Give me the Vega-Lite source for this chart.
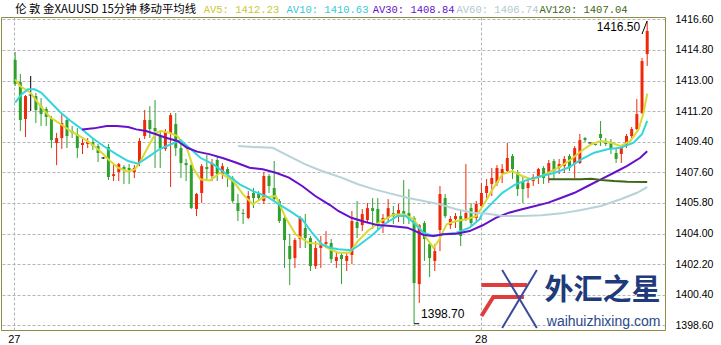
{
"$schema": "https://vega.github.io/schema/vega-lite/v6.json",
"width": 664, "height": 313,
"autosize": {"type": "none"},
"padding": {"left": 1, "top": 17, "right": 56, "bottom": 15},
"background": "white",
"config": {
 "view": {"stroke": "#8c8c46", "strokeWidth": 1},
 "axis": {"labelFont": "Liberation Sans", "labelColor": "#000000", "gridColor": "#b4b4b4", "gridDash": [3, 2], "gridWidth": 1, "domain": false, "ticks": false, "labelOverlap": false}
},
"datasets": {
"candles": [
{"i":0,"o":1414.21,"h":1414.68,"l":1412.68,"c":1412.80},
{"i":1,"o":1412.91,"h":1413.39,"l":1410.03,"c":1410.68},
{"i":2,"o":1410.74,"h":1412.15,"l":1409.68,"c":1412.09},
{"i":3,"o":1412.15,"h":1413.27,"l":1411.21,"c":1412.15},
{"i":4,"o":1412.09,"h":1412.27,"l":1410.50,"c":1411.27},
{"i":5,"o":1411.50,"h":1411.97,"l":1410.33,"c":1411.03},
{"i":6,"o":1411.33,"h":1411.45,"l":1410.33,"c":1410.86},
{"i":7,"o":1410.80,"h":1410.92,"l":1409.03,"c":1409.50},
{"i":8,"o":1409.33,"h":1409.92,"l":1408.03,"c":1409.62},
{"i":9,"o":1409.62,"h":1411.03,"l":1408.98,"c":1410.50},
{"i":10,"o":1410.68,"h":1410.80,"l":1409.03,"c":1409.74},
{"i":11,"o":1410.03,"h":1410.33,"l":1409.62,"c":1409.92},
{"i":12,"o":1409.86,"h":1410.21,"l":1408.45,"c":1409.03},
{"i":13,"o":1409.21,"h":1409.56,"l":1408.68,"c":1409.33},
{"i":14,"o":1409.27,"h":1409.62,"l":1409.03,"c":1409.45},
{"i":15,"o":1409.39,"h":1409.56,"l":1408.92,"c":1409.15},
{"i":16,"o":1409.15,"h":1409.27,"l":1408.21,"c":1408.74},
{"i":17,"o":1408.45,"h":1408.50,"l":1408.39,"c":1408.45},
{"i":18,"o":1409.09,"h":1409.27,"l":1407.15,"c":1407.33},
{"i":19,"o":1407.39,"h":1408.09,"l":1407.09,"c":1407.50},
{"i":20,"o":1407.62,"h":1408.15,"l":1407.09,"c":1408.09},
{"i":21,"o":1407.92,"h":1408.03,"l":1406.92,"c":1407.74},
{"i":22,"o":1407.86,"h":1408.09,"l":1406.92,"c":1407.74},
{"i":23,"o":1407.62,"h":1408.03,"l":1407.27,"c":1407.86},
{"i":24,"o":1408.15,"h":1409.62,"l":1407.97,"c":1409.45},
{"i":25,"o":1409.74,"h":1411.27,"l":1409.56,"c":1410.68},
{"i":26,"o":1410.68,"h":1411.50,"l":1409.62,"c":1410.15},
{"i":27,"o":1410.21,"h":1411.86,"l":1407.86,"c":1410.03},
{"i":28,"o":1409.74,"h":1410.09,"l":1407.86,"c":1409.03},
{"i":29,"o":1408.98,"h":1410.15,"l":1408.86,"c":1409.97},
{"i":30,"o":1409.92,"h":1411.09,"l":1406.74,"c":1410.97},
{"i":31,"o":1410.45,"h":1411.09,"l":1408.56,"c":1409.03},
{"i":32,"o":1409.03,"h":1409.27,"l":1407.27,"c":1408.15},
{"i":33,"o":1408.15,"h":1408.39,"l":1407.09,"c":1408.03},
{"i":34,"o":1408.03,"h":1408.15,"l":1405.45,"c":1405.50},
{"i":35,"o":1405.45,"h":1406.39,"l":1405.03,"c":1406.33},
{"i":36,"o":1406.39,"h":1408.09,"l":1405.80,"c":1407.97},
{"i":37,"o":1407.92,"h":1408.62,"l":1407.09,"c":1407.80},
{"i":38,"o":1407.39,"h":1408.39,"l":1407.09,"c":1408.15},
{"i":39,"o":1408.33,"h":1408.56,"l":1407.09,"c":1407.50},
{"i":40,"o":1407.50,"h":1408.15,"l":1407.21,"c":1407.97},
{"i":41,"o":1407.80,"h":1407.92,"l":1406.74,"c":1407.50},
{"i":42,"o":1407.27,"h":1407.39,"l":1405.80,"c":1405.92},
{"i":43,"o":1405.80,"h":1406.33,"l":1404.74,"c":1405.33},
{"i":44,"o":1405.21,"h":1405.45,"l":1404.56,"c":1405.15},
{"i":45,"o":1404.92,"h":1406.50,"l":1404.86,"c":1406.21},
{"i":46,"o":1406.39,"h":1406.68,"l":1405.50,"c":1406.09},
{"i":47,"o":1406.33,"h":1406.50,"l":1405.92,"c":1406.09},
{"i":48,"o":1405.92,"h":1407.62,"l":1405.74,"c":1407.39},
{"i":49,"o":1407.39,"h":1407.50,"l":1406.39,"c":1406.80},
{"i":50,"o":1406.68,"h":1408.27,"l":1405.92,"c":1406.03},
{"i":51,"o":1405.92,"h":1406.03,"l":1404.62,"c":1404.74},
{"i":52,"o":1404.92,"h":1405.03,"l":1401.98,"c":1403.62},
{"i":53,"o":1403.27,"h":1403.97,"l":1400.97,"c":1402.50},
{"i":54,"o":1402.56,"h":1403.74,"l":1401.98,"c":1403.62},
{"i":55,"o":1403.68,"h":1405.03,"l":1403.15,"c":1404.92},
{"i":56,"o":1404.33,"h":1405.15,"l":1403.15,"c":1403.74},
{"i":57,"o":1403.74,"h":1403.86,"l":1401.80,"c":1402.09},
{"i":58,"o":1402.09,"h":1403.56,"l":1401.92,"c":1403.15},
{"i":59,"o":1403.15,"h":1403.86,"l":1401.98,"c":1403.39},
{"i":60,"o":1403.39,"h":1404.15,"l":1403.15,"c":1403.50},
{"i":61,"o":1403.45,"h":1403.68,"l":1402.27,"c":1402.50},
{"i":62,"o":1402.39,"h":1402.86,"l":1401.98,"c":1402.62},
{"i":63,"o":1402.74,"h":1402.86,"l":1401.03,"c":1402.50},
{"i":64,"o":1402.39,"h":1402.92,"l":1401.80,"c":1402.68},
{"i":65,"o":1402.74,"h":1405.33,"l":1402.21,"c":1404.74},
{"i":66,"o":1404.68,"h":1405.92,"l":1403.74,"c":1404.33},
{"i":67,"o":1404.50,"h":1405.45,"l":1404.15,"c":1405.15},
{"i":68,"o":1404.80,"h":1405.80,"l":1404.62,"c":1405.50},
{"i":69,"o":1405.50,"h":1406.09,"l":1404.27,"c":1405.33},
{"i":70,"o":1405.45,"h":1406.09,"l":1404.27,"c":1404.50},
{"i":71,"o":1404.62,"h":1405.15,"l":1404.03,"c":1404.92},
{"i":72,"o":1404.92,"h":1406.03,"l":1404.62,"c":1405.50},
{"i":73,"o":1405.21,"h":1405.62,"l":1404.56,"c":1405.03},
{"i":74,"o":1405.09,"h":1405.74,"l":1404.68,"c":1405.39},
{"i":75,"o":1405.33,"h":1407.15,"l":1404.56,"c":1405.03},
{"i":76,"o":1405.21,"h":1406.62,"l":1404.56,"c":1404.92},
{"i":77,"o":1404.92,"h":1405.03,"l":1398.70,"c":1401.09},
{"i":78,"o":1401.03,"h":1404.56,"l":1399.92,"c":1404.50},
{"i":79,"o":1404.62,"h":1404.74,"l":1402.39,"c":1403.68},
{"i":80,"o":1403.39,"h":1403.45,"l":1401.45,"c":1402.56},
{"i":81,"o":1402.39,"h":1403.39,"l":1401.80,"c":1402.97},
{"i":82,"o":1404.21,"h":1406.80,"l":1402.97,"c":1406.33},
{"i":83,"o":1406.09,"h":1406.33,"l":1404.92,"c":1405.03},
{"i":84,"o":1404.50,"h":1405.03,"l":1404.27,"c":1404.86},
{"i":85,"o":1404.86,"h":1405.21,"l":1404.33,"c":1405.03},
{"i":86,"o":1405.03,"h":1405.33,"l":1403.27,"c":1403.86},
{"i":87,"o":1404.86,"h":1408.09,"l":1404.74,"c":1405.21},
{"i":88,"o":1405.50,"h":1405.80,"l":1404.45,"c":1404.62},
{"i":89,"o":1404.92,"h":1405.92,"l":1404.74,"c":1405.74},
{"i":90,"o":1405.62,"h":1406.97,"l":1405.50,"c":1406.39},
{"i":91,"o":1406.39,"h":1407.21,"l":1406.03,"c":1406.80},
{"i":92,"o":1406.92,"h":1407.86,"l":1406.21,"c":1407.27},
{"i":93,"o":1406.97,"h":1408.03,"l":1406.80,"c":1407.86},
{"i":94,"o":1407.56,"h":1408.09,"l":1406.97,"c":1407.80},
{"i":95,"o":1407.68,"h":1409.33,"l":1407.56,"c":1408.45},
{"i":96,"o":1408.56,"h":1408.68,"l":1407.21,"c":1407.80},
{"i":97,"o":1407.56,"h":1407.74,"l":1406.21,"c":1406.62},
{"i":98,"o":1407.09,"h":1407.39,"l":1405.80,"c":1406.62},
{"i":99,"o":1406.68,"h":1407.21,"l":1406.09,"c":1406.97},
{"i":100,"o":1407.09,"h":1407.50,"l":1406.80,"c":1407.33},
{"i":101,"o":1407.27,"h":1407.86,"l":1406.92,"c":1407.80},
{"i":102,"o":1407.86,"h":1407.97,"l":1406.92,"c":1407.27},
{"i":103,"o":1407.56,"h":1408.33,"l":1406.97,"c":1408.15},
{"i":104,"o":1408.27,"h":1408.39,"l":1407.21,"c":1407.68},
{"i":105,"o":1407.86,"h":1408.39,"l":1407.50,"c":1408.09},
{"i":106,"o":1407.97,"h":1408.56,"l":1407.56,"c":1408.39},
{"i":107,"o":1408.56,"h":1408.68,"l":1407.68,"c":1407.86},
{"i":108,"o":1408.09,"h":1409.15,"l":1407.27,"c":1409.03},
{"i":109,"o":1408.15,"h":1409.86,"l":1408.09,"c":1409.50},
{"i":110,"o":1409.62,"h":1409.68,"l":1409.39,"c":1409.50},
{"i":111,"o":1409.33,"h":1409.36,"l":1409.30,"c":1409.33},
{"i":112,"o":1409.27,"h":1409.30,"l":1409.18,"c":1409.21},
{"i":113,"o":1409.86,"h":1410.62,"l":1409.15,"c":1409.62},
{"i":114,"o":1409.45,"h":1409.62,"l":1409.15,"c":1409.27},
{"i":115,"o":1409.39,"h":1409.56,"l":1408.68,"c":1408.98},
{"i":116,"o":1408.74,"h":1408.98,"l":1408.15,"c":1408.39},
{"i":117,"o":1408.68,"h":1409.15,"l":1408.15,"c":1409.03},
{"i":118,"o":1409.15,"h":1409.86,"l":1409.03,"c":1409.74},
{"i":119,"o":1409.74,"h":1410.27,"l":1409.62,"c":1410.15},
{"i":120,"o":1410.15,"h":1411.92,"l":1410.09,"c":1411.03},
{"i":121,"o":1411.09,"h":1414.33,"l":1411.03,"c":1414.15},
{"i":122,"o":1414.56,"h":1416.50,"l":1413.86,"c":1415.92}
],
"ma": [
{"ma":"AV5","i":0,"v":1413.07},{"ma":"AV5","i":0.95,"v":1412.68},{"ma":"AV5","i":2.93,"v":1412.29},{"ma":"AV5","i":4.89,"v":1411.50},{"ma":"AV5","i":6.84,"v":1410.82},{"ma":"AV5","i":8.82,"v":1410.43},{"ma":"AV5","i":10.72,"v":1410.03},{"ma":"AV5","i":12.93,"v":1409.64},{"ma":"AV5","i":14.83,"v":1409.25},{"ma":"AV5","i":16.73,"v":1408.76},{"ma":"AV5","i":18.33,"v":1408.27},{"ma":"AV5","i":19.9,"v":1407.87},{"ma":"AV5","i":21.8,"v":1407.64},{"ma":"AV5","i":23.08,"v":1407.78},{"ma":"AV5","i":24.03,"v":1408.17},{"ma":"AV5","i":25.93,"v":1409.25},{"ma":"AV5","i":27.19,"v":1409.93},{"ma":"AV5","i":28.14,"v":1410.03},{"ma":"AV5","i":29.73,"v":1409.93},{"ma":"AV5","i":31.31,"v":1409.74},{"ma":"AV5","i":32.26,"v":1409.35},{"ma":"AV5","i":33.21,"v":1408.96},{"ma":"AV5","i":34.49,"v":1407.78},{"ma":"AV5","i":35.74,"v":1407.19},{"ma":"AV5","i":37.64,"v":1407.13},{"ma":"AV5","i":39.54,"v":1407.58},{"ma":"AV5","i":42.09,"v":1407.09},{"ma":"AV5","i":43.99,"v":1406.31},{"ma":"AV5","i":45.89,"v":1405.72},{"ma":"AV5","i":47.79,"v":1406.11},{"ma":"AV5","i":50.32,"v":1406.21},{"ma":"AV5","i":52.22,"v":1404.93},{"ma":"AV5","i":54.13,"v":1403.96},{"ma":"AV5","i":56.65,"v":1403.46},{"ma":"AV5","i":59.2,"v":1403.37},{"ma":"AV5","i":60.78,"v":1403.08},{"ma":"AV5","i":62.36,"v":1402.88},{"ma":"AV5","i":64.58,"v":1402.88},{"ma":"AV5","i":66.16,"v":1403.56},{"ma":"AV5","i":68.06,"v":1404.15},{"ma":"AV5","i":70.61,"v":1404.74},{"ma":"AV5","i":73.14,"v":1405.13},{"ma":"AV5","i":75.04,"v":1405.13},{"ma":"AV5","i":76.94,"v":1404.84},{"ma":"AV5","i":78.84,"v":1403.96},{"ma":"AV5","i":80.74,"v":1403.17},{"ma":"AV5","i":81.69,"v":1403.56},{"ma":"AV5","i":83.27,"v":1404.55},{"ma":"AV5","i":85.17,"v":1404.74},{"ma":"AV5","i":87.07,"v":1404.84},{"ma":"AV5","i":88.97,"v":1405.03},{"ma":"AV5","i":90.25,"v":1405.62},{"ma":"AV5","i":92.15,"v":1406.60},{"ma":"AV5","i":94.05,"v":1407.49},{"ma":"AV5","i":95.95,"v":1407.68},{"ma":"AV5","i":97.85,"v":1407.39},{"ma":"AV5","i":99.75,"v":1407.19},{"ma":"AV5","i":101.65,"v":1407.39},{"ma":"AV5","i":103.56,"v":1407.68},{"ma":"AV5","i":105.46,"v":1407.98},{"ma":"AV5","i":107.36,"v":1408.37},{"ma":"AV5","i":109.26,"v":1408.86},{"ma":"AV5","i":111.16,"v":1409.25},{"ma":"AV5","i":113.07,"v":1409.45},{"ma":"AV5","i":114.96,"v":1409.35},{"ma":"AV5","i":116.86,"v":1409.15},{"ma":"AV5","i":118.77,"v":1409.45},{"ma":"AV5","i":120.34,"v":1410.13},{"ma":"AV5","i":121.29,"v":1411.11},{"ma":"AV5","i":122,"v":1412.23},
{"ma":"AV10","i":0,"v":1411.70},{"ma":"AV10","i":1.22,"v":1412.19},{"ma":"AV10","i":2.47,"v":1412.49},{"ma":"AV10","i":3.75,"v":1412.49},{"ma":"AV10","i":5.02,"v":1412.29},{"ma":"AV10","i":6.92,"v":1411.70},{"ma":"AV10","i":8.82,"v":1411.11},{"ma":"AV10","i":10.72,"v":1410.62},{"ma":"AV10","i":12.93,"v":1410.13},{"ma":"AV10","i":14.83,"v":1409.64},{"ma":"AV10","i":17.05,"v":1409.15},{"ma":"AV10","i":19.58,"v":1408.66},{"ma":"AV10","i":21.8,"v":1408.27},{"ma":"AV10","i":23.71,"v":1408.11},{"ma":"AV10","i":25.93,"v":1408.56},{"ma":"AV10","i":27.83,"v":1408.96},{"ma":"AV10","i":29.73,"v":1409.21},{"ma":"AV10","i":31.94,"v":1409.49},{"ma":"AV10","i":33.21,"v":1409.15},{"ma":"AV10","i":35.74,"v":1408.46},{"ma":"AV10","i":38.29,"v":1408.07},{"ma":"AV10","i":40.82,"v":1407.49},{"ma":"AV10","i":43.35,"v":1406.90},{"ma":"AV10","i":45.89,"v":1406.50},{"ma":"AV10","i":48.42,"v":1406.21},{"ma":"AV10","i":50.95,"v":1405.72},{"ma":"AV10","i":53.5,"v":1405.23},{"ma":"AV10","i":55.4,"v":1404.84},{"ma":"AV10","i":57.3,"v":1404.05},{"ma":"AV10","i":59.2,"v":1403.37},{"ma":"AV10","i":60.78,"v":1403.17},{"ma":"AV10","i":62.36,"v":1403.08},{"ma":"AV10","i":64.9,"v":1403.02},{"ma":"AV10","i":66.16,"v":1403.27},{"ma":"AV10","i":68.71,"v":1403.86},{"ma":"AV10","i":71.24,"v":1404.55},{"ma":"AV10","i":73.76,"v":1405.03},{"ma":"AV10","i":75.36,"v":1405.03},{"ma":"AV10","i":76.94,"v":1404.64},{"ma":"AV10","i":78.84,"v":1404.05},{"ma":"AV10","i":80.74,"v":1403.86},{"ma":"AV10","i":82.64,"v":1403.96},{"ma":"AV10","i":85.17,"v":1404.05},{"ma":"AV10","i":87.72,"v":1404.35},{"ma":"AV10","i":89.62,"v":1404.84},{"ma":"AV10","i":90.25,"v":1405.23},{"ma":"AV10","i":92.15,"v":1405.82},{"ma":"AV10","i":94.05,"v":1406.40},{"ma":"AV10","i":96.58,"v":1406.90},{"ma":"AV10","i":99.13,"v":1407.19},{"ma":"AV10","i":101.65,"v":1407.39},{"ma":"AV10","i":104.18,"v":1407.58},{"ma":"AV10","i":106.73,"v":1407.87},{"ma":"AV10","i":109.26,"v":1408.37},{"ma":"AV10","i":111.79,"v":1408.76},{"ma":"AV10","i":114.33,"v":1408.96},{"ma":"AV10","i":116.86,"v":1409.05},{"ma":"AV10","i":119.39,"v":1409.35},{"ma":"AV10","i":120.99,"v":1409.84},{"ma":"AV10","i":122,"v":1410.63},
{"ma":"AV30","i":12.93,"v":1410.13},{"ma":"AV30","i":15.15,"v":1410.19},{"ma":"AV30","i":17.68,"v":1410.33},{"ma":"AV30","i":19.58,"v":1410.33},{"ma":"AV30","i":21.8,"v":1410.27},{"ma":"AV30","i":23.38,"v":1410.13},{"ma":"AV30","i":25.29,"v":1410.03},{"ma":"AV30","i":27.19,"v":1409.84},{"ma":"AV30","i":29.09,"v":1409.64},{"ma":"AV30","i":31.31,"v":1409.45},{"ma":"AV30","i":33.21,"v":1409.05},{"ma":"AV30","i":35.11,"v":1408.82},{"ma":"AV30","i":37.64,"v":1408.66},{"ma":"AV30","i":40.19,"v":1408.43},{"ma":"AV30","i":42.72,"v":1408.17},{"ma":"AV30","i":45.25,"v":1407.87},{"ma":"AV30","i":47.79,"v":1407.78},{"ma":"AV30","i":50.32,"v":1407.58},{"ma":"AV30","i":52.85,"v":1407.29},{"ma":"AV30","i":55.4,"v":1406.80},{"ma":"AV30","i":57.93,"v":1406.21},{"ma":"AV30","i":60.78,"v":1405.68},{"ma":"AV30","i":62.36,"v":1405.33},{"ma":"AV30","i":64.9,"v":1404.93},{"ma":"AV30","i":67.43,"v":1404.70},{"ma":"AV30","i":69.96,"v":1404.50},{"ma":"AV30","i":72.51,"v":1404.45},{"ma":"AV30","i":75.67,"v":1404.35},{"ma":"AV30","i":76.94,"v":1404.19},{"ma":"AV30","i":78.84,"v":1403.92},{"ma":"AV30","i":80.74,"v":1403.86},{"ma":"AV30","i":82.64,"v":1403.96},{"ma":"AV30","i":85.17,"v":1403.99},{"ma":"AV30","i":87.72,"v":1404.15},{"ma":"AV30","i":90.25,"v":1404.49},{"ma":"AV30","i":92.78,"v":1404.93},{"ma":"AV30","i":95.32,"v":1405.23},{"ma":"AV30","i":97.85,"v":1405.43},{"ma":"AV30","i":100.38,"v":1405.62},{"ma":"AV30","i":102.93,"v":1405.82},{"ma":"AV30","i":105.46,"v":1406.11},{"ma":"AV30","i":107.98,"v":1406.40},{"ma":"AV30","i":110.53,"v":1406.80},{"ma":"AV30","i":113.07,"v":1407.19},{"ma":"AV30","i":115.59,"v":1407.58},{"ma":"AV30","i":118.14,"v":1407.98},{"ma":"AV30","i":120.66,"v":1408.46},{"ma":"AV30","i":122,"v":1408.84},
{"ma":"AV60","i":43.04,"v":1409.15},{"ma":"AV60","i":45.89,"v":1409.09},{"ma":"AV60","i":49.7,"v":1409.05},{"ma":"AV60","i":52.85,"v":1408.56},{"ma":"AV60","i":56.03,"v":1408.07},{"ma":"AV60","i":59.2,"v":1407.68},{"ma":"AV60","i":60.78,"v":1407.52},{"ma":"AV60","i":63.0,"v":1407.29},{"ma":"AV60","i":66.16,"v":1406.90},{"ma":"AV60","i":69.33,"v":1406.60},{"ma":"AV60","i":72.51,"v":1406.35},{"ma":"AV60","i":75.67,"v":1406.11},{"ma":"AV60","i":78.84,"v":1405.92},{"ma":"AV60","i":82.02,"v":1405.72},{"ma":"AV60","i":85.17,"v":1405.43},{"ma":"AV60","i":88.35,"v":1405.23},{"ma":"AV60","i":91.2,"v":1405.17},{"ma":"AV60","i":94.05,"v":1405.03},{"ma":"AV60","i":97.85,"v":1405.03},{"ma":"AV60","i":101.65,"v":1405.08},{"ma":"AV60","i":105.46,"v":1405.19},{"ma":"AV60","i":109.26,"v":1405.39},{"ma":"AV60","i":113.07,"v":1405.62},{"ma":"AV60","i":116.86,"v":1406.02},{"ma":"AV60","i":120.04,"v":1406.40},{"ma":"AV60","i":122,"v":1406.74},
{"ma":"AV120","i":102.93,"v":1407.19},{"ma":"AV120","i":106.08,"v":1407.19},{"ma":"AV120","i":109.26,"v":1407.19},{"ma":"AV120","i":111.16,"v":1407.23},{"ma":"AV120","i":113.07,"v":1407.15},{"ma":"AV120","i":115.59,"v":1407.09},{"ma":"AV120","i":118.14,"v":1407.05},{"ma":"AV120","i":122,"v":1407.04}
]
},
"encoding": {
 "x": {"field": "i", "type": "quantitative", "title": null,
  "scale": {"domain": [-1.768, 124.47], "nice": false, "zero": false},
  "axis": {"orient": "bottom", "values": [-0.25, 89.86], "tickCount": 20, "labelExpr": "datum.value < 10 ? '27' : '28'", "grid": true, "labelPadding": 3, "labelFontSize": 11, "labelFlush": false, "labelOverlap": false, "title": null}}
},
"layer": [
 {"data": {"name": "candles"},
  "mark": {"type": "rule", "strokeWidth": 1},
  "encoding": {
   "y": {"field": "l", "type": "quantitative", "title": null,
    "scale": {"domain": [1398.33, 1416.74], "nice": false, "zero": false},
    "axis": {"orient": "right", "values": [1398.6, 1400.4, 1402.2, 1404.0, 1405.8, 1407.6, 1409.4, 1411.2, 1413.0, 1414.8, 1416.6], "tickCount": 30, "format": ".2f", "grid": true, "labelPadding": 10, "labelFontSize": 10.5, "labelOverlap": false, "labelSeparation": 0, "title": null}},
   "y2": {"field": "h"},
   "color": {"condition": [{"test": "datum.c > datum.o", "value": "#f0280a"}, {"test": "datum.c < datum.o", "value": "#2ea02e"}], "value": "#000000"}
  }},
 {"data": {"name": "candles"},
  "mark": {"type": "bar", "size": 3},
  "encoding": {
   "y": {"field": "o", "type": "quantitative", "title": null},
   "y2": {"field": "c"},
   "color": {"condition": [{"test": "datum.c > datum.o", "value": "#f0280a"}, {"test": "datum.c < datum.o", "value": "#2ea02e"}], "value": "#000000"}
  }},
 {"data": {"name": "candles"},
  "transform": [{"filter": "datum.o == datum.c"}],
  "mark": {"type": "tick", "orient": "horizontal", "size": 4, "thickness": 1, "color": "#000000"},
  "encoding": {
   "y": {"field": "o", "type": "quantitative", "title": null}
  }},
 {"data": {"name": "ma"},
  "mark": {"type": "line", "strokeWidth": 2},
  "encoding": {
   "y": {"field": "v", "type": "quantitative", "title": null},
   "color": {"field": "ma", "type": "nominal", "legend": null,
    "scale": {"domain": ["AV5", "AV10", "AV30", "AV60", "AV120"], "range": ["#d9d932", "#33d6de", "#6610cc", "#b6d3d8", "#3d6616"]}}
  }},
 {"data": {"name": "candles"},
  "transform": [{"filter": "datum.i == 122"}],
  "mark": {"type": "text", "align": "right", "baseline": "top", "dx": -7, "dy": 1, "font": "Liberation Sans", "fontSize": 12, "color": "#000000"},
  "encoding": {
   "y": {"field": "h", "type": "quantitative", "title": null},
   "text": {"field": "h", "type": "quantitative", "format": ".2f"}
  }},
 {"data": {"name": "candles"},
  "transform": [{"filter": "datum.i == 77"}],
  "mark": {"type": "text", "align": "left", "baseline": "bottom", "dx": 7, "dy": -3, "font": "Liberation Sans", "fontSize": 12, "color": "#000000"},
  "encoding": {
   "y": {"field": "l", "type": "quantitative", "title": null},
   "text": {"field": "l", "type": "quantitative", "format": ".2f"}
  }},
 {"data": {"name": "candles"},
  "transform": [{"filter": "datum.i == 77"}],
  "mark": {"type": "rule", "color": "#000000", "strokeWidth": 1},
  "encoding": {
   "x2": {"datum": 78},
   "y": {"field": "l", "type": "quantitative", "title": null}
  }},
 {"data": {"name": "candles"},
  "transform": [{"filter": "datum.i == 121"}],
  "mark": {"type": "rule", "color": "#000000", "strokeWidth": 1},
  "encoding": {
   "x2": {"datum": 121.98},
   "y": {"datum": 1415.74, "type": "quantitative", "title": null},
   "y2": {"datum": 1416.5}
  }},
 {"data": {"name": "candles"},
  "transform": [{"filter": "datum.i == 90"}],
  "mark": {"type": "rule", "color": "#e03c3c", "strokeWidth": 4},
  "encoding": {"x2": {"datum": 98.8}, "y": {"datum": 1400.98, "type": "quantitative", "title": null}}},
 {"data": {"name": "candles"},
  "transform": [{"filter": "datum.i == 92"}],
  "mark": {"type": "rule", "color": "#e03c3c", "strokeWidth": 4},
  "encoding": {"x2": {"datum": 98.2}, "y": {"datum": 1400.27, "type": "quantitative", "title": null}}},
 {"data": {"name": "candles"},
  "transform": [{"filter": "datum.i == 90"}],
  "mark": {"type": "rule", "color": "#e03c3c", "strokeWidth": 4},
  "encoding": {"x2": {"datum": 92.3}, "y": {"datum": 1399.15, "type": "quantitative", "title": null}, "y2": {"datum": 1400.27}}},
 {"data": {"name": "candles"},
  "transform": [{"filter": "datum.i == 94"}],
  "mark": {"type": "rule", "color": "#3b4b9b", "strokeWidth": 2},
  "encoding": {"x2": {"datum": 100.7}, "y": {"datum": 1401.86, "type": "quantitative", "title": null}, "y2": {"datum": 1398.45}}},
 {"data": {"name": "candles"},
  "transform": [{"filter": "datum.i == 94"}],
  "mark": {"type": "rule", "color": "#3b4b9b", "strokeWidth": 2},
  "encoding": {"x2": {"datum": 100.7}, "y": {"datum": 1398.45, "type": "quantitative", "title": null}, "y2": {"datum": 1401.86}}},
 {"data": {"name": "candles"},
  "transform": [{"filter": "datum.i == 0"}],
  "mark": {"type": "text", "align": "left", "baseline": "middle", "font": "Noto Sans CJK SC", "fontSize": 11.4, "color": "#000000", "text": "伦 敦 金XAUUSD 15分钟 移动平均线"},
  "encoding": {"y": {"datum": 1417.18, "type": "quantitative", "title": null}}},
 {"data": {"name": "candles"},
  "transform": [{"filter": "datum.i == 36"}],
  "mark": {"type": "text", "align": "left", "baseline": "middle", "dx": 2, "font": "Liberation Mono", "fontSize": 10.5, "color": "#c8c832", "text": "AV5: 1412.23"},
  "encoding": {"y": {"datum": 1417.18, "type": "quantitative", "title": null}}},
 {"data": {"name": "candles"},
  "transform": [{"filter": "datum.i == 52"}],
  "mark": {"type": "text", "align": "left", "baseline": "middle", "dx": 2, "font": "Liberation Mono", "fontSize": 10.5, "color": "#36c8d6", "text": "AV10: 1410.63"},
  "encoding": {"y": {"datum": 1417.18, "type": "quantitative", "title": null}}},
 {"data": {"name": "candles"},
  "transform": [{"filter": "datum.i == 69"}],
  "mark": {"type": "text", "align": "left", "baseline": "middle", "font": "Liberation Mono", "fontSize": 10.5, "color": "#6610cc", "text": "AV30: 1408.84"},
  "encoding": {"y": {"datum": 1417.18, "type": "quantitative", "title": null}}},
 {"data": {"name": "candles"},
  "transform": [{"filter": "datum.i == 85"}],
  "mark": {"type": "text", "align": "left", "baseline": "middle", "dx": 1, "font": "Liberation Mono", "fontSize": 10.5, "color": "#b0c8cc", "text": "AV60: 1406.74"},
  "encoding": {"y": {"datum": 1417.18, "type": "quantitative", "title": null}}},
 {"data": {"name": "candles"},
  "transform": [{"filter": "datum.i == 101"}],
  "mark": {"type": "text", "align": "left", "baseline": "middle", "dx": 1, "font": "Liberation Mono", "fontSize": 10.5, "color": "#3d6616", "text": "AV120: 1407.04"},
  "encoding": {"y": {"datum": 1417.18, "type": "quantitative", "title": null}}},
 {"data": {"name": "candles"},
  "transform": [{"filter": "datum.i == 113"}],
  "mark": {"type": "text", "align": "center", "baseline": "middle", "dx": 2, "font": "Noto Sans CJK SC", "fontSize": 29, "fontWeight": "bold", "color": "#1e3a7a", "text": "外汇之星"},
  "encoding": {"y": {"datum": 1400.62, "type": "quantitative", "title": null}}},
 {"data": {"name": "candles"},
  "transform": [{"filter": "datum.i == 113"}],
  "mark": {"type": "text", "align": "center", "baseline": "middle", "dx": 3, "font": "Liberation Sans", "fontSize": 14, "color": "#2a4a8a", "text": "waihuizhixing.com"},
  "encoding": {"y": {"datum": 1398.8, "type": "quantitative", "title": null}}}
]
}
